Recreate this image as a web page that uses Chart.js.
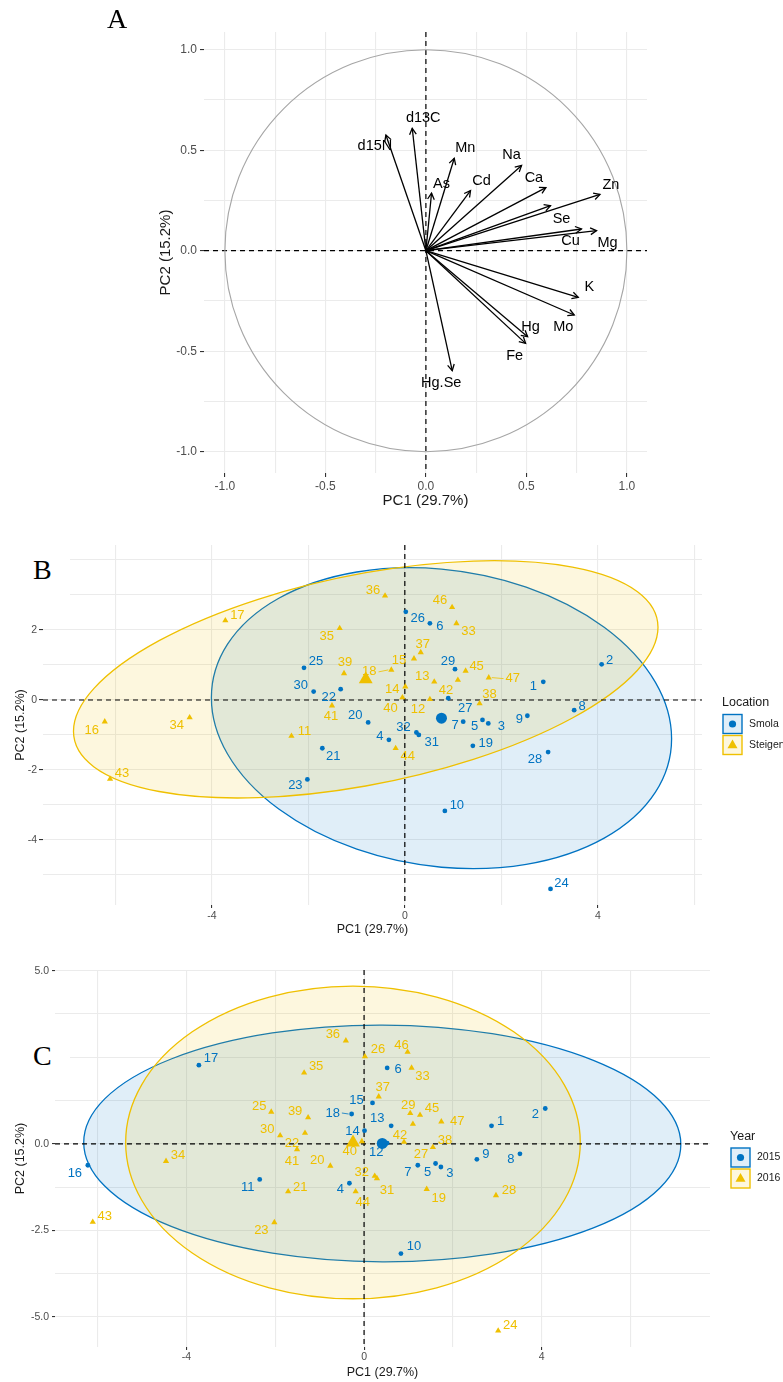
<!DOCTYPE html>
<html>
<head>
<meta charset="utf-8">
<script src="https://cdn.jsdelivr.net/npm/chart.js@4.4.0/dist/chart.umd.min.js"></script>
<style>
  body { margin: 0; background: #fff; width: 783px; height: 1382px; position: relative; overflow: hidden; }
  canvas { position: absolute; left: 0; }
  .tag { position: absolute; background: #fff; font-family: "Liberation Serif", "Times New Roman", serif;
         font-size: 28px; line-height: 28px; color: #000; }
</style>
</head>
<body>
<canvas id="chartA" width="783" height="515" style="top:0"></canvas>
<canvas id="chartB" width="783" height="425" style="top:515px"></canvas>
<canvas id="chartC" width="783" height="442" style="top:940px"></canvas>
<div class="tag" style="left:107px;top:5px">A</div>
<div class="tag" style="left:30px;top:548px;width:40px;height:60px"><span style="position:absolute;left:3px;top:8px">B</span></div>
<div class="tag" style="left:30px;top:1030px;width:40px;height:50px"><span style="position:absolute;left:3px;top:12px">C</span></div>
<script>
// ---- panel A: variable loadings ----
const variables = ['d15N', 'd13C', 'As', 'Mn', 'Cd', 'Na', 'Ca', 'Zn', 'Se', 'Cu', 'Mg', 'K', 'Mo', 'Hg', 'Fe', 'Hg.Se'];
const loadPC1 = [-0.199, -0.068, 0.028, 0.141, 0.222, 0.476, 0.597, 0.866, 0.62, 0.774, 0.849, 0.758, 0.738, 0.506, 0.496, 0.131];
const loadPC2 = [0.576, 0.609, 0.286, 0.46, 0.299, 0.424, 0.314, 0.28, 0.224, 0.108, 0.1, -0.232, -0.32, -0.428, -0.461, -0.597];

// ---- panels B and C: individual scores, samples 1..47 ----
const samples = Array.from({ length: 47 }, (_, i) => String(i + 1));
const pc1 = [2.87, 4.08, 1.73, -0.33, 1.61, 0.52, 1.21, 3.51, 2.54, 0.83,
  -2.35, 0.52, 0.61, 0.01, 0.19, -6.22, -3.72, -0.28, 1.41, -0.76,
  -1.71, -1.33, -2.02, 3.02, -2.09, 0.02, 0.9, 2.97, 1.04, -1.89,
  0.29, 0.24, 1.07, -4.46, -1.35, -0.41, 0.33, 1.55, -1.26, -0.05,
  -1.51, 1.1, -6.11, -0.19, 1.26, 0.98, 1.74];
const pc2 = [0.52, 1.02, -0.67, -1.14, -0.57, 2.19, -0.62, -0.29, -0.45, -3.17,
  -1.03, 0.02, 0.52, 0.38, 1.18, -0.62, 2.27, 0.86, -1.31, -0.64,
  -1.38, 0.31, -2.27, -5.4, 0.92, 2.52, 0.05, -1.49, 0.88, 0.24,
  -1.0, -0.93, 2.19, -0.5, 2.05, 2.98, 1.36, -0.1, 0.76, 0.07,
  -0.16, 0.57, -2.26, -1.38, 0.83, 2.65, 0.64];
const sampleLocation = samples.map(s => (+s <= 10 || (+s >= 19 && +s <= 32)) ? 'Smola' : 'Steigen');
const sampleYear = samples.map(s => +s <= 18 ? '2015' : '2016');

const locations = ['Smola', 'Steigen'];
const locationMeans = [[0.76, -0.52], [-0.81, 0.59]];
const locationSpread = [[22.75, -2.8, 18.5], [36.7, 9.0, 11.5]];   // var x, cov xy, var y of the 95% ellipse
const years = ['2015', '2016'];
const yearMeans = [[0.41, 0.01], [-0.25, 0.04]];
const yearSpread = [[45.2, -0.2, 11.7], [26.2, 0, 20.4]];

// ---- axes ----
const gridA = [-1, -0.75, -0.5, -0.25, 0, 0.25, 0.5, 0.75, 1];
const ticksA = [-1, -0.5, 0, 0.5, 1];
const gridX = [-6, -4, -2, 0, 2, 4, 6];
const ticksX = [-4, 0, 4];
const gridYB = [-5, -4, -3, -2, -1, 0, 1, 2, 3, 4];
const ticksYB = [-4, -2, 0, 2];
const gridYC = [-5, -3.75, -2.5, -1.25, 0, 1.25, 2.5, 3.75, 5];
const ticksYC = [-5, -2.5, 0, 2.5, 5];

const blue = '#0073C2', yellow = '#EFC000';
const blueFill = 'rgba(0,115,194,0.12)', yellowFill = 'rgba(239,192,0,0.13)';
const FONT = '"Liberation Sans", Arial, Helvetica, sans-serif';
Chart.defaults.font.family = FONT;

// label offsets in px (label centre minus point), as placed by the original
const offsB = [[-10,5],[8,-4],[13,3],[-9,-3],[-8,6],[10,3],[-8,4],[8,-4],[-8,4],[12,-5],
  [13,-5],[-12,10],[-12,-5],[-13,3],[-15,2],[-13,9],[12,-5],[-22,2],[13,-2],[-13,-7],
  [11,8],[-12,8],[-12,6],[11,-5],[12,-6],[12,7],[17,10],[-13,7],[-7,-8],[-13,-6],
  [13,7],[-13,-5],[12,8],[-13,8],[-13,8],[-12,-5],[2,-8],[10,-9],[1,-11],[-12,11],
  [-1,11],[-12,10],[12,-6],[12,8],[11,-5],[-12,-7],[24,1]];
const offsC = [[9,-4],[-10,6],[9,6],[-9,6],[-8,9],[11,1],[-10,7],[-9,6],[9,-5],[13,-7],
  [-12,8],[-11,9],[-14,-7],[-12,1],[-16,-3],[-13,8],[12,-7],[-19,-1],[12,9],[-13,-6],
  [12,-4],[-13,10],[-13,8],[12,-5],[-12,-6],[13,-7],[17,12],[13,-5],[-2,-8],[-13,-6],
  [10,12],[-13,-4],[11,8],[12,-6],[12,-6],[-13,-6],[4,-9],[12,-7],[-13,-6],[-12,10],
  [-5,12],[-13,11],[12,-6],[7,11],[12,-7],[-6,-7],[16,0]];
const offsA = [[-11,11],[11,-10],[10,-9],[11,-10],[11,-10],[-10,-10],[-12,-10],[11,-9],[11,13],[-11,12],
  [11,12],[11,-10],[-11,12],[3,-10],[-11,13],[-11,12]];

function makeAxis(cfg) {
  const left = cfg.position === 'left';
  return {
    type: 'linear', position: cfg.position, min: cfg.min, max: cfg.max,
    afterBuildTicks: s => { s.ticks = cfg.grid.map(v => ({ value: v })); },
    afterFit: s => { if (left) s.width = cfg.size; else s.height = cfg.size; },
    border: { display: false },
    grid: {
      color: '#ebebeb', lineWidth: 1.1, drawTicks: true, tickLength: cfg.tickLength, tickWidth: 1.1,
      tickColor: c => (c.tick && cfg.labels.includes(c.tick.value)) ? '#333333' : 'rgba(0,0,0,0)'
    },
    ticks: {
      autoSkip: false, maxRotation: 0, padding: cfg.tickPad, color: '#4d4d4d',
      font: { size: cfg.tickSize },
      callback: v => cfg.labels.includes(v) ? cfg.format(v) : ''
    },
    title: {
      display: true, text: cfg.title, color: '#1a1a1a', font: { size: cfg.titleSize },
      padding: left ? { top: 5, bottom: 0 } : { top: 0, bottom: cfg.titlePad }
    }
  };
}

const zeroLines = {
  id: 'zeroLines',
  beforeDatasetsDraw(chart) {
    const { ctx, chartArea: a, scales: { x, y } } = chart;
    const x0 = x.getPixelForValue(0), y0 = y.getPixelForValue(0);
    ctx.save();
    ctx.strokeStyle = '#000'; ctx.lineWidth = 1.2; ctx.setLineDash([5, 4]);
    ctx.beginPath();
    ctx.moveTo(a.left, y0); ctx.lineTo(a.right, y0);
    ctx.moveTo(x0, a.top); ctx.lineTo(x0, a.bottom);
    ctx.stroke();
    ctx.restore();
  }
};

function ellipsePlugin(means, spread, fills, lines) {
  return {
    id: 'groupEllipses',
    beforeDatasetsDraw(chart) {
      const { ctx, scales: { x, y } } = chart;
      const sx = x.getPixelForValue(1) - x.getPixelForValue(0);
      const sy = y.getPixelForValue(0) - y.getPixelForValue(1);
      means.forEach((m, k) => {
        const [vxx, cxy, vyy] = spread[k];
        const l11 = Math.sqrt(vxx), l21 = cxy / l11, l22 = Math.sqrt(vyy - l21 * l21);
        ctx.save();
        ctx.translate(x.getPixelForValue(m[0]), y.getPixelForValue(m[1]));
        ctx.transform(sx * l11, -sy * l21, 0, -sy * l22, 0, 0);
        ctx.beginPath();
        ctx.arc(0, 0, 1, 0, Math.PI * 2);
        ctx.restore();
        ctx.save();
        ctx.fillStyle = fills[k]; ctx.fill();
        ctx.strokeStyle = lines[k]; ctx.lineWidth = 1.3; ctx.stroke();
        ctx.restore();
      });
    }
  };
}

function labelPlugin(groupOf, groupNames, colours, offs, segments) {
  return {
    id: 'sampleLabels',
    afterDatasetsDraw(chart) {
      const { ctx, scales: { x, y } } = chart;
      ctx.save();
      ctx.font = '13px ' + FONT;
      ctx.textAlign = 'center'; ctx.textBaseline = 'middle';
      samples.forEach((s, i) => {
        const col = colours[groupNames.indexOf(groupOf[i])];
        const px = x.getPixelForValue(pc1[i]), py = y.getPixelForValue(pc2[i]);
        const lx = px + offs[i][0], ly = py + offs[i][1];
        ctx.fillStyle = col;
        ctx.fillText(s, lx, ly);
        if (segments.includes(s)) {
          const dir = Math.sign(offs[i][0]);
          const half = ctx.measureText(s).width / 2 + 2;
          ctx.strokeStyle = col; ctx.lineWidth = 0.8;
          ctx.beginPath();
          ctx.moveTo(px + dir * 3, py);
          ctx.lineTo(lx - dir * half, ly);
          ctx.stroke();
        }
      });
      ctx.restore();
    }
  };
}

function legendPlugin(title, names, colours, fills) {
  return {
    id: 'keyLegend',
    afterDraw(chart) {
      const { ctx, chartArea: a } = chart;
      const left = a.right + 20, mid = (a.top + a.bottom) / 2;
      ctx.save();
      ctx.textAlign = 'left'; ctx.textBaseline = 'middle';
      ctx.fillStyle = '#1a1a1a'; ctx.font = '12.5px ' + FONT;
      ctx.fillText(title, left, mid - 22);
      names.forEach((n, k) => {
        const cy = mid - 1 + k * 21, cx = left + 10.5;
        ctx.fillStyle = '#fff'; ctx.fillRect(left + 1, cy - 9.5, 19, 19);
        ctx.fillStyle = fills[k]; ctx.fillRect(left + 1, cy - 9.5, 19, 19);
        ctx.strokeStyle = colours[k]; ctx.lineWidth = 1.4; ctx.strokeRect(left + 1, cy - 9.5, 19, 19);
        ctx.fillStyle = colours[k];
        ctx.beginPath();
        if (k === 0) {
          ctx.arc(cx, cy, 3.6, 0, Math.PI * 2);
        } else {
          ctx.moveTo(cx, cy - 5.5); ctx.lineTo(cx + 5, cy + 3.3); ctx.lineTo(cx - 5, cy + 3.3); ctx.closePath();
        }
        ctx.fill();
        ctx.fillStyle = '#1a1a1a'; ctx.font = '10.5px ' + FONT;
        ctx.fillText(n, left + 27, cy);
      });
      ctx.restore();
    }
  };
}

const arrowHeads = {
  id: 'arrowHeads',
  beforeDatasetsDraw(chart) {
    const { ctx, scales: { x, y } } = chart;
    const x0 = x.getPixelForValue(0), y0 = y.getPixelForValue(0);
    ctx.save();
    ctx.strokeStyle = '#a6a6a6'; ctx.lineWidth = 1.1;
    ctx.beginPath();
    ctx.ellipse(x0, y0, x.getPixelForValue(1) - x0, y0 - y.getPixelForValue(1), 0, 0, Math.PI * 2);
    ctx.stroke();
    ctx.restore();
  },
  afterDatasetsDraw(chart) {
    const { ctx, scales: { x, y } } = chart;
    const x0 = x.getPixelForValue(0), y0 = y.getPixelForValue(0);
    ctx.save();
    ctx.strokeStyle = '#000'; ctx.lineWidth = 1.3; ctx.fillStyle = '#000';
    ctx.font = '14.5px ' + FONT; ctx.textAlign = 'center'; ctx.textBaseline = 'middle';
    variables.forEach((v, i) => {
      const tx = x.getPixelForValue(loadPC1[i]), ty = y.getPixelForValue(loadPC2[i]);
      const ang = Math.atan2(ty - y0, tx - x0);
      ctx.beginPath();
      ctx.moveTo(tx - 7 * Math.cos(ang - 0.5), ty - 7 * Math.sin(ang - 0.5));
      ctx.lineTo(tx, ty);
      ctx.lineTo(tx - 7 * Math.cos(ang + 0.5), ty - 7 * Math.sin(ang + 0.5));
      ctx.stroke();
      ctx.fillText(v, tx + offsA[i][0], ty + offsA[i][1]);
    });
    ctx.restore();
  }
};

const common = {
  responsive: false, animation: false, devicePixelRatio: 1, events: [],
  plugins: { legend: { display: false }, tooltip: { enabled: false } }
};

// ---- A ----
new Chart(document.getElementById('chartA'), {
  type: 'scatter',
  data: {
    datasets: variables.map((v, i) => ({
      label: v, data: [{ x: 0, y: 0 }, { x: loadPC1[i], y: loadPC2[i] }],
      showLine: true, borderColor: '#000', borderWidth: 1.3, pointRadius: 0
    }))
  },
  options: Object.assign({}, common, {
    layout: { padding: { left: 152, right: 136, top: 32, bottom: 0 } },
    scales: {
      x: makeAxis({ position: 'bottom', min: -1.104, max: 1.1, grid: gridA, labels: ticksA, format: v => v.toFixed(1),
        size: 42, tickLength: 4, tickPad: 2, tickSize: 12, title: 'PC1 (29.7%)', titleSize: 15, titlePad: 5 }),
      y: makeAxis({ position: 'left', min: -1.106, max: 1.088, grid: gridA, labels: ticksA, format: v => v.toFixed(1),
        size: 52, tickLength: 4, tickPad: 3, tickSize: 12, title: 'PC2 (15.2%)', titleSize: 15 })
    }
  }),
  plugins: [zeroLines, arrowHeads]
});

// ---- B and C ----
function scoreDatasets(groupOf, names, colours, means) {
  const styles = ['circle', 'triangle'];
  const sets = names.map((g, k) => ({
    label: g,
    data: pc1.map((v, i) => ({ x: v, y: pc2[i], g: groupOf[i] })).filter(p => p.g === g),
    pointStyle: styles[k], pointRadius: k === 0 ? 2.4 : 3.6, backgroundColor: colours[k], borderWidth: 0
  }));
  names.forEach((g, k) => sets.push({
    label: g + ' mean', data: [{ x: means[k][0], y: means[k][1] }],
    pointStyle: styles[k], pointRadius: k === 0 ? 5.5 : 8, backgroundColor: colours[k], borderWidth: 0
  }));
  return sets;
}

new Chart(document.getElementById('chartB'), {
  type: 'scatter',
  data: { datasets: scoreDatasets(sampleLocation, locations, [blue, yellow], locationMeans) },
  options: Object.assign({}, common, {
    layout: { padding: { left: 8, right: 81, top: 30, bottom: 0 } },
    scales: {
      x: makeAxis({ position: 'bottom', min: -7.5, max: 6.16, grid: gridX, labels: ticksX, format: v => String(v),
        size: 35, tickLength: 3, tickPad: 2, tickSize: 10.5, title: 'PC1 (29.7%)', titleSize: 12.5, titlePad: 3 }),
      y: makeAxis({ position: 'left', min: -5.86, max: 4.43, grid: gridYB, labels: ticksYB, format: v => String(v),
        size: 35, tickLength: 4, tickPad: 2, tickSize: 10.5, title: 'PC2 (15.2%)', titleSize: 12.5 })
    }
  }),
  plugins: [
    ellipsePlugin(locationMeans, locationSpread, [blueFill, yellowFill], [blue, yellow]),
    zeroLines,
    labelPlugin(sampleLocation, locations, [blue, yellow], offsB, ['18', '47']),
    legendPlugin('Location', locations, [blue, yellow], [blueFill, yellowFill])
  ]
});

new Chart(document.getElementById('chartC'), {
  type: 'scatter',
  data: { datasets: scoreDatasets(sampleYear, years, [blue, yellow], yearMeans) },
  options: Object.assign({}, common, {
    layout: { padding: { left: 8, right: 73, top: 30, bottom: 0 } },
    scales: {
      x: makeAxis({ position: 'bottom', min: -6.96, max: 7.79, grid: gridX, labels: ticksX, format: v => String(v),
        size: 35, tickLength: 3, tickPad: 1, tickSize: 10.5, title: 'PC1 (29.7%)', titleSize: 12.5, titlePad: 2 }),
      y: makeAxis({ position: 'left', min: -5.87, max: 5.02, grid: gridYC, labels: ticksYC, format: v => v.toFixed(1),
        size: 47, tickLength: 3, tickPad: 3, tickSize: 10.5, title: 'PC2 (15.2%)', titleSize: 12.5 })
    }
  }),
  plugins: [
    ellipsePlugin(yearMeans, yearSpread, [blueFill, yellowFill], [blue, yellow]),
    zeroLines,
    labelPlugin(sampleYear, years, [blue, yellow], offsC, ['18']),
    legendPlugin('Year', years, [blue, yellow], [blueFill, yellowFill])
  ]
});
</script>
</body>
</html>
